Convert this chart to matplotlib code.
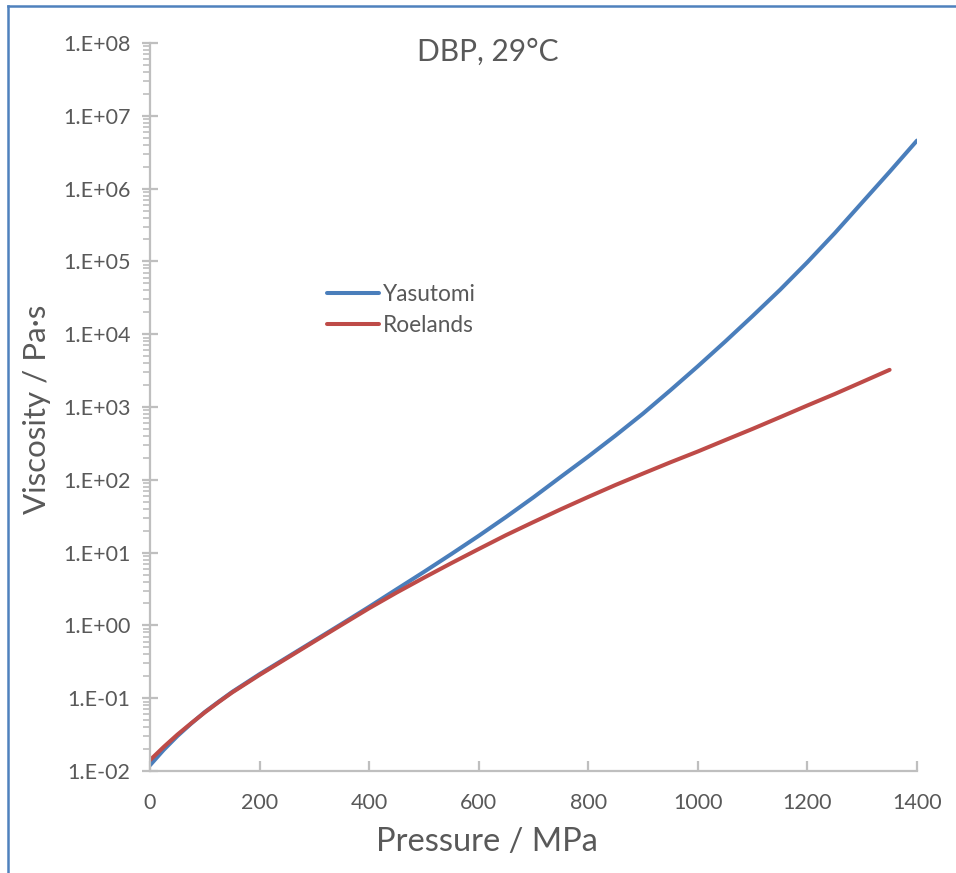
import matplotlib
matplotlib.use("Agg")
import matplotlib.pyplot as plt
from matplotlib.lines import Line2D
from matplotlib.ticker import LogLocator, FixedLocator, FuncFormatter, NullFormatter

plt.rcParams['font.family'] = ['Lato', 'DejaVu Sans']

# Data (pressure in MPa, viscosity in Pa·s)
pressure_yasutomi = [0, 25, 50, 75, 100, 125, 150, 200, 250, 300, 350, 400, 450, 500, 550, 600,
                     650, 700, 750, 800, 850, 900, 950, 1000, 1050, 1100, 1150, 1200, 1250,
                     1300, 1350, 1400]
visc_yasutomi = [0.0120, 0.0195, 0.0302, 0.0447, 0.0646, 0.0891, 0.122, 0.214, 0.363, 0.617,
                 1.05, 1.80, 3.13, 5.43, 9.55, 17.0, 30.9, 57.5, 110, 209, 407, 813, 1.70e3,
                 3.63e3, 7.94e3, 1.78e4, 4.07e4, 9.77e4, 2.45e5, 6.46e5, 1.70e6, 4.57e6]

pressure_roelands = [0, 25, 50, 75, 100, 125, 150, 200, 250, 300, 350, 400, 450, 500, 550, 600,
                     650, 700, 750, 800, 850, 900, 950, 1000, 1050, 1100, 1150, 1200, 1250,
                     1300, 1350]
visc_roelands = [0.0141, 0.0214, 0.0316, 0.0452, 0.0638, 0.0881, 0.120, 0.209, 0.355, 0.603,
                 1.02, 1.72, 2.82, 4.52, 7.16, 11.2, 17.4, 26.3, 39.4, 58.2, 85.1, 122, 174,
                 245, 351, 501, 724, 1.05e3, 1.51e3, 2.21e3, 3.24e3]

series_names = ["Yasutomi", "Roelands"]
x_ticks = [0, 200, 400, 600, 800, 1000, 1200, 1400]
y_decades = [1e-2, 1e-1, 1e0, 1e1, 1e2, 1e3, 1e4, 1e5, 1e6, 1e7, 1e8]
y_ticklabels = ["1.E-02", "1.E-01", "1.E+00", "1.E+01", "1.E+02", "1.E+03",
                "1.E+04", "1.E+05", "1.E+06", "1.E+07", "1.E+08"]
title_text = "DBP, 29°C"
xlabel_text = "Pressure / MPa"
ylabel_text = "Viscosity / Pa·s"

W, H = 956, 873
fig = plt.figure(figsize=(W / 100, H / 100), dpi=100)
ax = fig.add_axes([150 / W, 1 - 771 / H, 767 / W, 728 / H])

blue = '#4a7ebb'
red = '#be4b48'
grey = '#bfbfbf'
text_grey = '#595959'

ax.plot(pressure_yasutomi, visc_yasutomi, color=blue, lw=2.9, solid_capstyle='round',
        solid_joinstyle='round', label=series_names[0])
ax.plot(pressure_roelands, visc_roelands, color=red, lw=2.9, solid_capstyle='round',
        solid_joinstyle='round', label=series_names[1])

ax.set_yscale('log')
ax.set_xlim(0, 1400)
ax.set_ylim(1e-2, 1e8)

ax.xaxis.set_major_locator(FixedLocator(x_ticks))
ax.yaxis.set_major_locator(FixedLocator(y_decades))
ax.yaxis.set_major_formatter(FuncFormatter(lambda v, p: y_ticklabels[y_decades.index(v)]
                                           if v in y_decades else ""))
ax.yaxis.set_minor_locator(LogLocator(base=10, subs=range(2, 10), numticks=100))
ax.yaxis.set_minor_formatter(NullFormatter())

for s in ['top', 'right']:
    ax.spines[s].set_visible(False)
for s in ['left', 'bottom']:
    ax.spines[s].set_color(grey)
    ax.spines[s].set_linewidth(1.6)

ax.tick_params(axis='x', which='major', direction='in', length=7, width=1.6, color=grey,
               labelsize=15.5, labelcolor=text_grey, pad=16)
ax.tick_params(axis='y', which='major', direction='inout', length=12, width=1.6, color=grey,
               labelsize=15.5, labelcolor=text_grey, pad=8)
ax.tick_params(axis='y', which='minor', direction='out', length=5, width=1.2, color=grey)

ax.set_facecolor('none')

fig.text(488 / W, 1 - 52 / H, title_text, ha='center', va='center', fontsize=21.5,
         color=text_grey)
fig.text(487 / W, 1 - 842 / H, xlabel_text, ha='center', va='center', fontsize=23.5,
         color=text_grey)
fig.text(37 / W, 1 - 409 / H, ylabel_text, ha='center', va='center', fontsize=22.5,
         color=text_grey, rotation=90)

leg = ax.legend(loc='upper left', bbox_to_anchor=((327 - 150) / 767, (771 - 284) / 728),
                frameon=False, fontsize=16.3, handlelength=2.3, handletextpad=0.15,
                labelspacing=0.45, borderaxespad=0, borderpad=0)
for t in leg.get_texts():
    t.set_color(text_grey)

# outer chart border (left and top visible in the reference)
bx = 7.5 / W
by = 1 - 5.5 / H
fig.add_artist(Line2D([bx, bx], [0, by], transform=fig.transFigure, color='#4f81bd', lw=1.8))
fig.add_artist(Line2D([bx, 1], [by, by], transform=fig.transFigure, color='#4f81bd', lw=1.8))

fig.savefig('out.png', dpi=100, facecolor='white')
